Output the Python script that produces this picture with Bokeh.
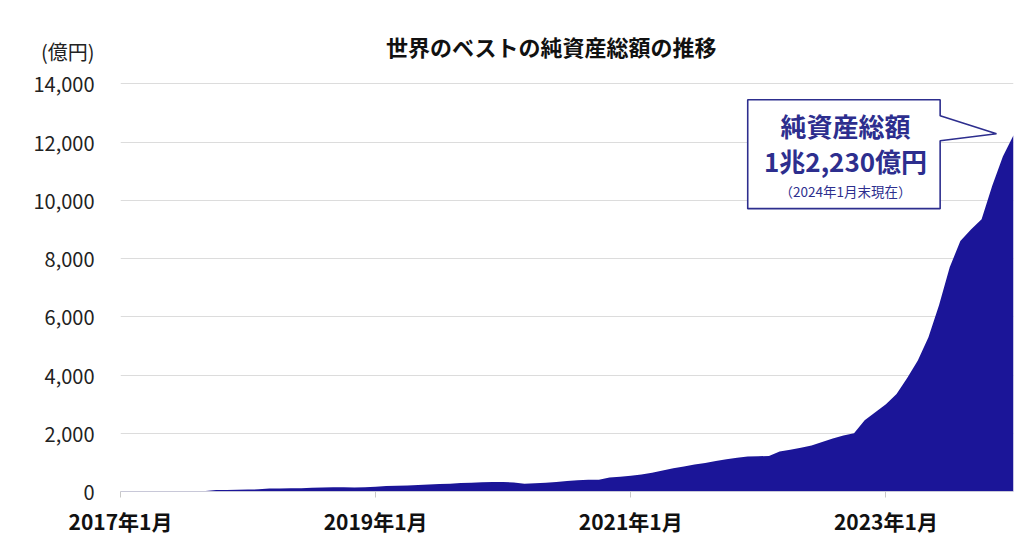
from bokeh.plotting import figure
from bokeh.models import Range1d, FixedTicker, Label
from bokeh.embed import file_html
from bokeh.resources import INLINE

# ---- data (億円, month-end, Jan 2017 .. Jan 2024) ----
values_2017 = [10, 10, 12, 12, 14, 15, 16, 18, 20, 50, 55, 60]
values_2018 = [65, 75, 100, 105, 110, 115, 125, 140, 145, 145, 140, 150]
values_2019 = [160, 190, 200, 210, 220, 240, 260, 270, 290, 300, 320, 330]
values_2020 = [330, 310, 265, 280, 300, 330, 360, 390, 400, 400, 480, 510]
values_2021 = [540, 580, 640, 720, 800, 860, 930, 980, 1050, 1110, 1160, 1200]
values_2022 = [1210, 1220, 1370, 1430, 1500, 1580, 1700, 1820, 1920, 2000, 2450, 2720]
values_2023 = [3000, 3350, 3900, 4500, 5300, 6400, 7700, 8600, 9000, 9350, 10500, 11500]
values_2024 = [12230]

x_tick_months = [0, 24, 48, 72]
x_tick_labels = ["2017年1月", "2019年1月", "2021年1月", "2023年1月"]
y_ticks = [0, 2000, 4000, 6000, 8000, 10000, 12000, 14000]

title_text = "世界のベストの純資産総額の推移"
unit_text = "(億円)"
callout_line1 = "純資産総額"
callout_line2 = "1兆2,230億円"
callout_line3 = "（2024年1月末現在）"

values = (values_2017 + values_2018 + values_2019 + values_2020 +
          values_2021 + values_2022 + values_2023 + values_2024)
months = list(range(len(values)))

FONT = "Noto Sans CJK JP"
AREA = "#1B1598"
NAVY = "#2D2E8E"

UNIT_Y = 15100   # axis position used for the unit caption
TITLE_Y = 15300

p = figure(width=1016, height=549, output_backend="svg", toolbar_location=None,
           x_range=Range1d(0, 84), y_range=Range1d(0, 16000),
           min_border_left=120, min_border_right=3, min_border_top=25,
           min_border_bottom=58)
p.outline_line_color = None
p.background_fill_color = "white"

p.varea(x=months, y1=0, y2=values, fill_color=AREA)

# grid
p.xgrid.grid_line_color = None
p.ygrid.grid_line_color = "#dcdcdc"
p.ygrid.grid_line_width = 1.2
p.ygrid.ticker = FixedTicker(ticks=y_ticks)

# y axis (the unit caption sits at the top of the value axis)
p.yaxis.ticker = FixedTicker(ticks=y_ticks + [UNIT_Y])
fmt = {t: "{:,}".format(t) for t in y_ticks}
fmt[UNIT_Y] = unit_text
p.yaxis.major_label_overrides = fmt
p.yaxis.axis_line_color = None
p.yaxis.major_tick_line_color = None
p.yaxis.minor_tick_line_color = None
p.yaxis.major_label_text_font = FONT
p.yaxis.major_label_text_font_size = "20px"
p.yaxis.major_label_text_color = "#222222"
p.yaxis.major_label_standoff = 20

# x axis
p.xaxis.ticker = FixedTicker(ticks=x_tick_months)
p.xaxis.major_label_overrides = {m: l for m, l in zip(x_tick_months, x_tick_labels)}
p.xaxis.axis_line_color = "#c8c8d8"
p.xaxis.major_tick_line_color = "#c8c8c8"
p.xaxis.major_tick_in = 0
p.xaxis.major_tick_out = 6
p.xaxis.minor_tick_line_color = None
p.xaxis.major_label_text_font = FONT
p.xaxis.major_label_text_font_style = "bold"
p.xaxis.major_label_text_font_size = "21px"
p.xaxis.major_label_text_color = "#111111"
p.xaxis.major_label_standoff = 8

# callout box (annotation, positioned in plot units)
bx0, bx1, tipx = 59.0, 77.1, 82.4
by0, by1 = 9712, 13452
pb_hi, pb_lo, tipy = 12903, 12045, 12285
p.patch([bx0, bx1, bx1, tipx, bx1, bx1, bx0],
        [by1, by1, pb_hi, tipy, pb_lo, by0, by0],
        fill_color="white", line_color=NAVY, line_width=1.6)

cx = 68.2
p.add_layout(Label(x=cx, y=12560, text=callout_line1, text_align="center",
                   text_baseline="middle", text_font=FONT, text_font_style="bold",
                   text_font_size="26px", text_color=NAVY))
p.add_layout(Label(x=cx, y=11360, text=callout_line2, text_align="center",
                   text_baseline="middle", text_font=FONT, text_font_style="bold",
                   text_font_size="26px", text_color=NAVY))
p.add_layout(Label(x=cx, y=10330, text=callout_line3, text_align="center",
                   text_baseline="middle", text_font=FONT,
                   text_font_size="13.5px", text_color=NAVY))

# chart title
p.add_layout(Label(x=40.5, y=TITLE_Y, text=title_text, text_align="center",
                   text_baseline="middle", text_font=FONT, text_font_style="bold",
                   text_font_size="22px", text_color="#111111"))

open("out.html", "w").write(file_html(p, INLINE))
